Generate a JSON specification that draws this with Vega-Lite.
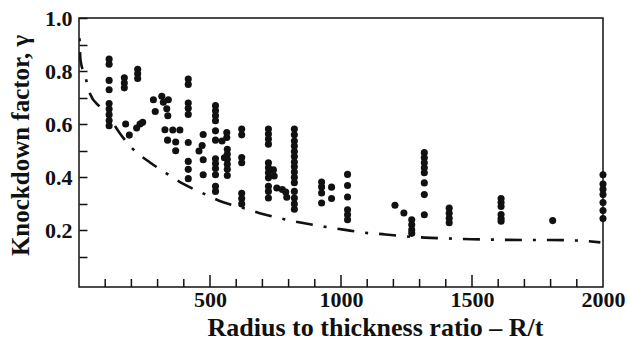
{
  "$schema": "https://vega.github.io/schema/vega-lite/v6.json",
  "width": 524,
  "height": 269,
  "autosize": {"type": "none"},
  "padding": {"left": 79, "top": 18, "right": 24, "bottom": 54},
  "background": "white",
  "config": {
    "view": {"stroke": "#111", "strokeWidth": 1.5},
    "font": "Liberation Serif"
  },
  "datasets": {
    "xticks": [
      {"ratio": 100}, {"ratio": 200}, {"ratio": 300}, {"ratio": 400}, {"ratio": 500},
      {"ratio": 600}, {"ratio": 700}, {"ratio": 800}, {"ratio": 900}, {"ratio": 1000},
      {"ratio": 1100}, {"ratio": 1200}, {"ratio": 1300}, {"ratio": 1400}, {"ratio": 1500},
      {"ratio": 1600}, {"ratio": 1700}, {"ratio": 1800}, {"ratio": 1900}
    ],
    "design": [
      {"ratio": 2, "gamma": 0.924}, {"ratio": 6, "gamma": 0.84}, {"ratio": 23, "gamma": 0.783},
      {"ratio": 42, "gamma": 0.715}, {"ratio": 80, "gamma": 0.665}, {"ratio": 115, "gamma": 0.627},
      {"ratio": 153, "gamma": 0.57}, {"ratio": 206, "gamma": 0.506}, {"ratio": 271, "gamma": 0.456},
      {"ratio": 332, "gamma": 0.416}, {"ratio": 400, "gamma": 0.374}, {"ratio": 469, "gamma": 0.342},
      {"ratio": 548, "gamma": 0.307}, {"ratio": 615, "gamma": 0.288}, {"ratio": 690, "gamma": 0.265},
      {"ratio": 775, "gamma": 0.244}, {"ratio": 850, "gamma": 0.229}, {"ratio": 930, "gamma": 0.215},
      {"ratio": 1010, "gamma": 0.203}, {"ratio": 1084, "gamma": 0.192}, {"ratio": 1170, "gamma": 0.185},
      {"ratio": 1244, "gamma": 0.178}, {"ratio": 1320, "gamma": 0.173}, {"ratio": 1404, "gamma": 0.17},
      {"ratio": 1500, "gamma": 0.167}, {"ratio": 1600, "gamma": 0.165}, {"ratio": 1700, "gamma": 0.164},
      {"ratio": 1800, "gamma": 0.164}, {"ratio": 1900, "gamma": 0.162}, {"ratio": 1990, "gamma": 0.155}
    ],
    "tests": [
      {"ratio": 115, "gamma": 0.845}, {"ratio": 115, "gamma": 0.826}, {"ratio": 115, "gamma": 0.765},
      {"ratio": 115, "gamma": 0.73}, {"ratio": 115, "gamma": 0.678}, {"ratio": 115, "gamma": 0.657},
      {"ratio": 115, "gamma": 0.636}, {"ratio": 115, "gamma": 0.614}, {"ratio": 115, "gamma": 0.594},
      {"ratio": 173, "gamma": 0.775}, {"ratio": 173, "gamma": 0.755}, {"ratio": 173, "gamma": 0.737},
      {"ratio": 224, "gamma": 0.807}, {"ratio": 224, "gamma": 0.79}, {"ratio": 224, "gamma": 0.772},
      {"ratio": 178, "gamma": 0.601}, {"ratio": 192, "gamma": 0.559}, {"ratio": 220, "gamma": 0.586},
      {"ratio": 233, "gamma": 0.601}, {"ratio": 243, "gamma": 0.607},
      {"ratio": 284, "gamma": 0.692}, {"ratio": 291, "gamma": 0.648}, {"ratio": 316, "gamma": 0.705},
      {"ratio": 322, "gamma": 0.683}, {"ratio": 341, "gamma": 0.692}, {"ratio": 335, "gamma": 0.658},
      {"ratio": 339, "gamma": 0.632},
      {"ratio": 417, "gamma": 0.77}, {"ratio": 417, "gamma": 0.75}, {"ratio": 417, "gamma": 0.68},
      {"ratio": 417, "gamma": 0.66}, {"ratio": 417, "gamma": 0.637}, {"ratio": 417, "gamma": 0.531},
      {"ratio": 417, "gamma": 0.46}, {"ratio": 417, "gamma": 0.43}, {"ratio": 417, "gamma": 0.395},
      {"ratio": 328, "gamma": 0.579}, {"ratio": 358, "gamma": 0.578}, {"ratio": 385, "gamma": 0.578},
      {"ratio": 338, "gamma": 0.54}, {"ratio": 369, "gamma": 0.533}, {"ratio": 369, "gamma": 0.5},
      {"ratio": 474, "gamma": 0.561}, {"ratio": 470, "gamma": 0.52}, {"ratio": 458, "gamma": 0.499},
      {"ratio": 474, "gamma": 0.466}, {"ratio": 474, "gamma": 0.41},
      {"ratio": 521, "gamma": 0.67}, {"ratio": 521, "gamma": 0.651}, {"ratio": 521, "gamma": 0.632},
      {"ratio": 521, "gamma": 0.613}, {"ratio": 521, "gamma": 0.575}, {"ratio": 521, "gamma": 0.54},
      {"ratio": 521, "gamma": 0.47}, {"ratio": 521, "gamma": 0.452}, {"ratio": 521, "gamma": 0.433},
      {"ratio": 521, "gamma": 0.41}, {"ratio": 521, "gamma": 0.366}, {"ratio": 521, "gamma": 0.347},
      {"ratio": 546, "gamma": 0.537}, {"ratio": 564, "gamma": 0.55}, {"ratio": 564, "gamma": 0.569},
      {"ratio": 566, "gamma": 0.506}, {"ratio": 566, "gamma": 0.487}, {"ratio": 555, "gamma": 0.474},
      {"ratio": 566, "gamma": 0.468}, {"ratio": 566, "gamma": 0.449}, {"ratio": 566, "gamma": 0.43},
      {"ratio": 566, "gamma": 0.407},
      {"ratio": 621, "gamma": 0.582}, {"ratio": 621, "gamma": 0.56}, {"ratio": 621, "gamma": 0.475},
      {"ratio": 621, "gamma": 0.455}, {"ratio": 621, "gamma": 0.34}, {"ratio": 621, "gamma": 0.32},
      {"ratio": 621, "gamma": 0.3},
      {"ratio": 723, "gamma": 0.582}, {"ratio": 723, "gamma": 0.563}, {"ratio": 723, "gamma": 0.544},
      {"ratio": 723, "gamma": 0.525}, {"ratio": 723, "gamma": 0.455}, {"ratio": 723, "gamma": 0.436},
      {"ratio": 723, "gamma": 0.417}, {"ratio": 723, "gamma": 0.398}, {"ratio": 723, "gamma": 0.366},
      {"ratio": 723, "gamma": 0.347}, {"ratio": 723, "gamma": 0.322},
      {"ratio": 742, "gamma": 0.428}, {"ratio": 745, "gamma": 0.405}, {"ratio": 755, "gamma": 0.36},
      {"ratio": 776, "gamma": 0.354}, {"ratio": 789, "gamma": 0.345}, {"ratio": 793, "gamma": 0.325},
      {"ratio": 822, "gamma": 0.582}, {"ratio": 822, "gamma": 0.56}, {"ratio": 822, "gamma": 0.537},
      {"ratio": 822, "gamma": 0.518}, {"ratio": 822, "gamma": 0.497}, {"ratio": 822, "gamma": 0.478},
      {"ratio": 822, "gamma": 0.458}, {"ratio": 822, "gamma": 0.44}, {"ratio": 822, "gamma": 0.42},
      {"ratio": 822, "gamma": 0.4}, {"ratio": 822, "gamma": 0.38}, {"ratio": 822, "gamma": 0.347},
      {"ratio": 822, "gamma": 0.322}, {"ratio": 822, "gamma": 0.3}, {"ratio": 822, "gamma": 0.28},
      {"ratio": 926, "gamma": 0.382}, {"ratio": 926, "gamma": 0.364}, {"ratio": 926, "gamma": 0.341},
      {"ratio": 926, "gamma": 0.303},
      {"ratio": 964, "gamma": 0.363}, {"ratio": 964, "gamma": 0.32},
      {"ratio": 1025, "gamma": 0.411}, {"ratio": 1025, "gamma": 0.369}, {"ratio": 1025, "gamma": 0.326},
      {"ratio": 1025, "gamma": 0.278}, {"ratio": 1025, "gamma": 0.259}, {"ratio": 1025, "gamma": 0.24},
      {"ratio": 1206, "gamma": 0.295}, {"ratio": 1240, "gamma": 0.266},
      {"ratio": 1270, "gamma": 0.24}, {"ratio": 1270, "gamma": 0.221}, {"ratio": 1270, "gamma": 0.202},
      {"ratio": 1270, "gamma": 0.189},
      {"ratio": 1318, "gamma": 0.493}, {"ratio": 1318, "gamma": 0.474}, {"ratio": 1318, "gamma": 0.455},
      {"ratio": 1318, "gamma": 0.436}, {"ratio": 1318, "gamma": 0.417}, {"ratio": 1318, "gamma": 0.379},
      {"ratio": 1318, "gamma": 0.335}, {"ratio": 1318, "gamma": 0.259},
      {"ratio": 1413, "gamma": 0.284}, {"ratio": 1413, "gamma": 0.265}, {"ratio": 1413, "gamma": 0.246},
      {"ratio": 1413, "gamma": 0.229},
      {"ratio": 1611, "gamma": 0.32}, {"ratio": 1611, "gamma": 0.305}, {"ratio": 1611, "gamma": 0.29},
      {"ratio": 1611, "gamma": 0.26}, {"ratio": 1611, "gamma": 0.245}, {"ratio": 1611, "gamma": 0.235},
      {"ratio": 1808, "gamma": 0.237},
      {"ratio": 2000, "gamma": 0.41}, {"ratio": 2000, "gamma": 0.375}, {"ratio": 2000, "gamma": 0.355},
      {"ratio": 2000, "gamma": 0.335}, {"ratio": 2000, "gamma": 0.305}, {"ratio": 2000, "gamma": 0.275},
      {"ratio": 2000, "gamma": 0.245}
    ]
  },
  "layer": [
    {
      "data": {"name": "xticks"},
      "mark": {"type": "tick", "orient": "vertical", "color": "#111", "thickness": 1.5, "opacity": 1, "clip": true},
      "encoding": {
        "x": {"field": "ratio", "type": "quantitative", "scale": {"domain": [0, 2000], "nice": false, "zero": false}},
        "y": {"datum": -0.013, "type": "quantitative", "scale": {"domain": [-0.013, 1.0], "nice": false, "zero": false}},
        "size": {"condition": {"test": "datum.ratio % 500 === 0", "value": 24}, "value": 16}
      }
    },
    {
      "data": {"name": "design"},
      "mark": {"type": "line", "color": "#111", "strokeWidth": 2.6, "strokeDash": [3, 11, 17, 11], "interpolate": "monotone", "clip": true},
      "encoding": {
        "x": {"field": "ratio", "type": "quantitative", "scale": {"domain": [0, 2000], "nice": false, "zero": false}},
        "y": {"field": "gamma", "type": "quantitative", "scale": {"domain": [-0.013, 1.0], "nice": false, "zero": false}}
      }
    },
    {
      "data": {"name": "tests"},
      "mark": {"type": "circle", "color": "#111", "size": 50, "opacity": 1},
      "encoding": {
        "x": {
          "field": "ratio", "type": "quantitative",
          "scale": {"domain": [0, 2000], "nice": false, "zero": false},
          "axis": {
            "title": "Radius to thickness ratio – R/t",
            "tickCount": 20,
            "format": "d",
            "labelExpr": "datum.value > 0 && datum.value % 500 === 0 ? datum.label : ''",
            "offset": -8,
            "domain": false,
            "ticks": false,
            "labelFont": "Liberation Serif", "labelFontWeight": "bold", "labelFontSize": 22, "labelColor": "#111",
            "labelPadding": 10, "labelFlush": false, "labelOverlap": false,
            "grid": false,
            "titleFont": "Liberation Serif", "titleFontWeight": "bold", "titleFontSize": 26, "titleColor": "#111",
            "titleX": 296, "titleY": 56, "titleAlign": "center", "titleBaseline": "alphabetic"
          }
        },
        "y": {
          "field": "gamma", "type": "quantitative",
          "scale": {"domain": [-0.013, 1.0], "nice": false, "zero": false},
          "axis": {
            "title": "Knockdown factor, γ",
            "tickCount": 10,
            "labelExpr": "datum.value > 0.05 && round(datum.value * 10) % 2 === 0 ? format(datum.value, '.1f') : ''",
            "offset": -8,
            "domain": false,
            "ticks": true,
            "tickSize": 8,
            "tickOpacity": {"condition": {"test": "datum.value < 0.05", "value": 0}, "value": 1},
            "tickColor": "#111", "tickWidth": 1.5,
            "grid": false,
            "labelFont": "Liberation Serif", "labelFontWeight": "bold", "labelFontSize": 22, "labelColor": "#111",
            "labelPadding": 7, "labelOverlap": false, "labelFlush": false,
            "titleFont": "Liberation Serif", "titleFontWeight": "bold", "titleFontSize": 25, "titleColor": "#111",
            "titleX": -67, "titleY": 127, "titleAngle": -90, "titleAlign": "center", "titleBaseline": "middle"
          }
        }
      }
    }
  ]
}
